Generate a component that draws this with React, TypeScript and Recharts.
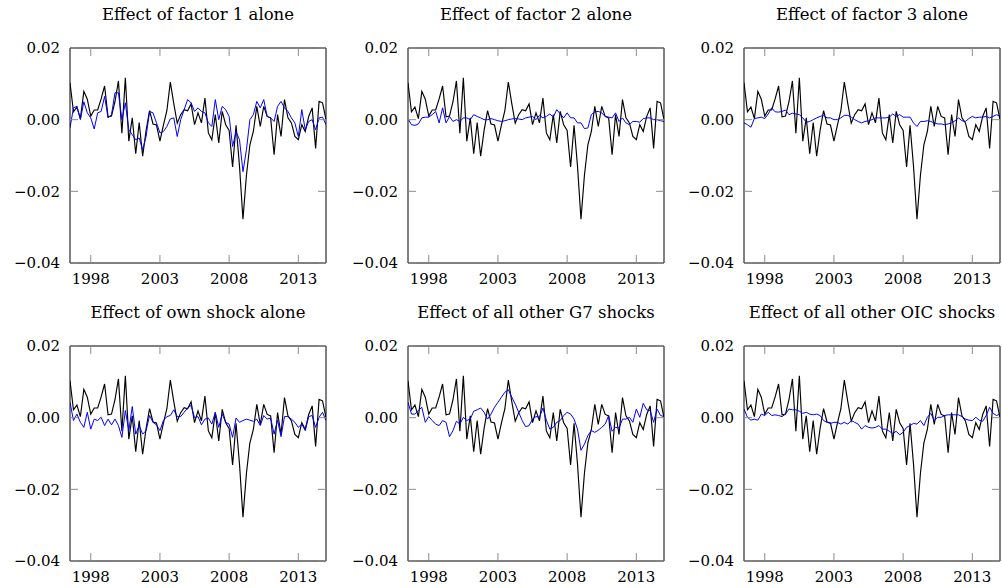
import { LineChart, Line, XAxis, YAxis } from 'recharts'

/* ─── Data (quarterly, 1996.5 … 2015.0) ─────────────────────────── */

const START_YEAR = 1996.5

// observed series (black), same in every panel
const actual = [
  0.0103, 0.0022, 0.0035, 0.0003, 0.0079, 0.0057, 0.001, 0.0027, 0.0027, 0.0058,
  0.0094, 0.0008, 0.001, 0.005, 0.0108, -0.0038, 0.0117, -0.006, 0.0005, -0.0095,
  -0.0008, -0.0102, -0.003, 0.0025, -0.0012, -0.0015, -0.006, -0.0015, 0.0025, 0.0105,
  0.0045, -0.001, 0.0014, 0.0028, 0.0025, 0.0044, -0.0014, 0.0019, -0.0009, 0.006,
  -0.0037, -0.0056, 0.0014, -0.0065, 0.0023, -0.0014, -0.003, -0.0132, -0.0016, -0.013,
  -0.0278, -0.0155, -0.007, -0.0033, 0.0037, -0.0019, 0.0037, 0.0009, 0.0005, -0.0098,
  0.0014, -0.0047, 0.0056, 0.0005, -0.0009, -0.0047, -0.0056, -0.0014, -0.0033, 0.0009,
  0.0033, -0.008, 0.0051, 0.0047, 0.0,
]

const factor1 = [
  -0.0023, 0.0033, 0.0037, 0.0, 0.005, 0.0019, 0.0005, -0.0026, 0.0019, 0.0023,
  0.0065, 0.0005, 0.0014, 0.0075, 0.0075, 0.0, 0.0047, -0.0028, -0.0042, -0.0056,
  -0.0051, -0.0084, -0.0047, 0.0023, 0.0019, -0.0009, -0.0037, -0.0033, -0.0019, 0.0002,
  0.0005, -0.0047, 0.0, 0.0028, 0.0056, 0.0047, 0.0023, 0.0033, 0.0023, 0.0019,
  -0.0009, -0.0019, 0.0056, 0.0, 0.0037, 0.0028, 0.0009, -0.0075, -0.0033, -0.0056,
  -0.0145, -0.0084, 0.0, 0.0014, 0.0051, 0.0033, 0.0056, 0.0009, 0.0005, -0.0005,
  0.0037, 0.0051, 0.0033, 0.0023, 0.0005, -0.0009, -0.0047, 0.0028, -0.0028, -0.0005,
  0.0, -0.0028, 0.0005, 0.0007, -0.0014,
]

const factor2 = [
  0.0002, -0.0014, -0.0016, -0.0012, 0.0005, 0.0007, 0.0007, 0.0014, 0.0023, -0.0009,
  0.0033, -0.0009, 0.0009, -0.0005, 0.0, -0.0005, 0.0005, 0.0005, 0.0, 0.0014,
  0.0009, 0.0005, 0.0, 0.0, 0.0003, 0.0, -0.0003, -0.0005, -0.0003, 0.0,
  0.0002, 0.0003, 0.0002, 0.0, 0.0005, 0.0007, 0.0009, 0.0, 0.0012, 0.0005,
  0.0009, 0.0016, 0.0007, 0.0028, 0.0016, 0.0005, 0.0019, 0.0005, 0.0005, -0.0009,
  -0.0009, -0.0025, -0.0023, 0.0014, 0.0022, 0.0023, 0.0019, 0.0009, 0.0007, 0.0005,
  0.0019, -0.0005, 0.0005, -0.0009, -0.0014, -0.0005, -0.0005, -0.0007, 0.0003, 0.0005,
  0.0005, 0.0, 0.0, -0.0003, -0.0005,
]

const factor3 = [
  -0.0009, -0.0014, -0.0021, 0.0003, 0.0005, 0.0007, 0.0003, 0.0016, 0.0033, 0.0022,
  0.0021, 0.0023, 0.0027, 0.0014, 0.0018, 0.0016, 0.0014, 0.0005, -0.0007, -0.0005,
  0.0, 0.0005, 0.0009, 0.0012, 0.0005, 0.0005, 0.0, 0.0, 0.0005, 0.0012,
  0.0012, 0.0007, 0.0, -0.0005, -0.0009, -0.0005, -0.0003, 0.0, 0.0005, 0.0005,
  0.0005, 0.0005, 0.0007, 0.0016, 0.0009, 0.0014, 0.0007, 0.0007, 0.0007, -0.0009,
  -0.0019, -0.0005, -0.0005, -0.0003, -0.0005, -0.0009, -0.0012, -0.0012, -0.0014, -0.0012,
  -0.0009, -0.0003, 0.0005, -0.0003, -0.0005, 0.0003, 0.0009, 0.0005, 0.0007, 0.0007,
  0.0009, 0.0005, 0.0009, 0.0014, 0.0009,
]

const ownShock = [
  0.0043, -0.0008, 0.001, -0.0013, -0.0027, 0.0015, -0.0032, -0.0004, -0.0008, 0.0001,
  -0.0022, -0.0004, -0.002, -0.0004, -0.0022, -0.0055, 0.002, -0.0036, 0.0031, -0.0046,
  -0.0022, -0.0046, -0.0036, 0.0006, -0.0013, -0.002, -0.0036, -0.0008, 0.0003, 0.0006,
  0.0022, 0.0003, 0.0003, 0.0015, 0.0027, 0.0034, 0.0, 0.0003, -0.002, -0.0004,
  -0.0001, -0.0018, 0.0015, -0.0027, 0.001, -0.0013, -0.0018, -0.0055, -0.0001, -0.0013,
  -0.0008, -0.0004, -0.0007, -0.001, -0.0004, -0.0022, 0.0006, -0.0004, -0.0001, -0.0046,
  -0.0007, -0.0053, 0.0003, 0.0003, -0.0004, -0.0013, -0.0027, -0.0018, -0.0036, 0.0003,
  0.0006, -0.0027, 0.0001, 0.0015, -0.0008,
]

const otherG7 = [
  0.0043, 0.001, 0.001, 0.002, 0.0029, -0.0013, 0.0003, -0.0008, -0.0018, -0.0022,
  -0.0008, -0.0013, -0.0053, -0.0036, -0.001, -0.0018, 0.0001, -0.0008, -0.0004, 0.0018,
  0.0022, 0.0027, 0.0015, -0.0004, 0.001, 0.0029, 0.0043, 0.0057, 0.0071, 0.0078,
  0.0057, 0.0038, 0.0015, -0.0008, -0.0025, -0.0022, -0.0004, 0.0003, 0.0001, 0.0027,
  -0.0007, -0.0032, -0.0027, -0.0013, -0.0008, 0.0006, 0.0015, 0.001, -0.0004, -0.0032,
  -0.0091, -0.0074, -0.005, -0.0036, -0.0041, -0.0035, -0.0027, -0.0018, 0.0006, -0.0038,
  -0.0027, -0.0029, -0.0004, -0.0004, 0.0001, -0.0013, 0.0024, 0.0001, 0.004, 0.0022,
  0.002, -0.0013, 0.0024, 0.0006, 0.0003,
]

const otherOIC = [
  0.0024, 0.0001, -0.0007, -0.0004, -0.0007, 0.001, 0.0006, 0.0015, 0.0006, 0.0008,
  0.0006, 0.0003, 0.001, 0.0024, 0.0022, 0.0022, 0.0018, 0.0012, 0.0015, 0.001,
  0.0008, 0.001, 0.0006, -0.0008, -0.0013, -0.0016, -0.0013, -0.0013, -0.0018, -0.0013,
  -0.0018, -0.0008, -0.0013, -0.0018, -0.0032, -0.0022, -0.0027, -0.0029, -0.0027, -0.0022,
  -0.0032, -0.0032, -0.0038, -0.0044, -0.0038, -0.0048, -0.0041, -0.0027, -0.0022, -0.0016,
  -0.0018, -0.0008, -0.0022, 0.0001, 0.0012, -0.0008, 0.0001, 0.0001, 0.0006, 0.0008,
  0.0008, 0.0008, 0.0008, 0.0003, -0.0004, -0.0007, -0.0008, 0.0001, -0.0007, -0.001,
  0.0006, 0.0029, 0.0012, 0.0006, 0.001,
]

const titles = [
  'Effect of factor 1 alone',
  'Effect of factor 2 alone',
  'Effect of factor 3 alone',
  'Effect of own shock alone',
  'Effect of all other G7 shocks',
  'Effect of all other OIC shocks',
]
const effects = [factor1, factor2, factor3, ownShock, otherG7, otherOIC]

const xTicks = [1998, 2003, 2008, 2013]
const yTicks = [-0.04, -0.02, 0, 0.02]

const quarters = actual.map((_, i) => START_YEAR + i / 4)

/* ─── Layout ───────────────────────────────────────────────────── */

const FONT = 'DejaVu Serif'
const PLOT_LEFT = [70, 408, 744]
const PLOT_TOP = [48, 345.5]
const PLOT_W = 256
const PLOT_H = 215
const TICK_LEN = 8
const TICK_COLOR = '#8c8c8c'
const FONT_SIZE = 15

const fmtY = (v: number) => (v < 0 ? '\u2212' + Math.abs(v).toFixed(2) : v.toFixed(2))

/* inward tick marks, drawn by hand so they sit inside the frame */

function BottomTick({ x, y, payload }: any) {
  return (
    <g>
      <line x1={x} x2={x} y1={y} y2={y - TICK_LEN} stroke={TICK_COLOR} />
      <text x={x} y={y + 10} dy="0.71em" textAnchor="middle" fontSize={FONT_SIZE} fontFamily={FONT} fill="#000">
        {payload.value}
      </text>
    </g>
  )
}

function TopTick({ x, y }: any) {
  return <line x1={x} x2={x} y1={y} y2={y + TICK_LEN} stroke={TICK_COLOR} />
}

function LeftTick({ x, y, payload }: any) {
  return (
    <g>
      <line x1={x} x2={x + TICK_LEN} y1={y} y2={y} stroke={TICK_COLOR} />
      <text x={x - 10} y={y} dy="0.355em" textAnchor="end" fontSize={FONT_SIZE} fontFamily={FONT} fill="#000">
        {fmtY(payload.value)}
      </text>
    </g>
  )
}

function RightTick({ x, y }: any) {
  return <line x1={x} x2={x - TICK_LEN} y1={y} y2={y} stroke={TICK_COLOR} />
}

function Panel({ title, effect, left, top }: { title: string; effect: number[]; left: number; top: number }) {
  const data = quarters.map((t, i) => ({ t, actual: actual[i], effect: effect[i] }))
  const xDomain = [quarters[0], quarters[quarters.length - 1]]
  return (
    <>
      <div
        style={{
          position: 'absolute',
          left: left - 60,
          width: PLOT_W + 120,
          top: top - 42,
          textAlign: 'center',
          fontFamily: FONT,
          fontSize: 16.5,
          lineHeight: '18px',
          whiteSpace: 'nowrap',
        }}
      >
        {title}
      </div>
      <div style={{ position: 'absolute', left: left - 70, top: top - 10 }}>
        <LineChart
          width={70 + PLOT_W + 4}
          height={10 + PLOT_H + 30}
          data={data}
          margin={{ top: 9, right: 3, bottom: 0, left: 0 }}
        >
          <XAxis
            dataKey="t"
            type="number"
            domain={xDomain}
            ticks={xTicks}
            allowDataOverflow
            height={30}
            tickSize={0}
            tickMargin={0}
            tick={<BottomTick />}
            tickLine={false}
            axisLine={{ stroke: '#000' }}
            interval={0}
          />
          <XAxis
            xAxisId="top"
            orientation="top"
            dataKey="t"
            type="number"
            domain={xDomain}
            ticks={xTicks}
            allowDataOverflow
            height={1}
            tickSize={0}
            tickMargin={0}
            tick={<TopTick />}
            tickLine={false}
            axisLine={{ stroke: '#000' }}
            interval={0}
          />
          <YAxis
            type="number"
            domain={[-0.04, 0.02]}
            ticks={yTicks}
            allowDataOverflow
            width={70}
            tickSize={0}
            tickMargin={0}
            tick={<LeftTick />}
            tickLine={false}
            axisLine={{ stroke: '#000' }}
            interval={0}
          />
          <YAxis
            yAxisId="right"
            orientation="right"
            type="number"
            domain={[-0.04, 0.02]}
            ticks={yTicks}
            allowDataOverflow
            width={1}
            tickSize={0}
            tickMargin={0}
            tick={<RightTick />}
            tickLine={false}
            axisLine={{ stroke: '#000' }}
            interval={0}
          />
          <Line
            type="linear"
            dataKey="actual"
            stroke="#000"
            strokeWidth={1.15}
            dot={false}
            isAnimationActive={false}
          />
          <Line
            type="linear"
            dataKey="effect"
            stroke="#0000ff"
            strokeWidth={1}
            dot={false}
            isAnimationActive={false}
          />
        </LineChart>
      </div>
    </>
  )
}

export default function App() {
  return (
    <div style={{ position: 'absolute', left: 0, top: 0, width: 1002, height: 588, background: '#fff' }}>
      {titles.map((title, k) => (
        <Panel
          key={title}
          title={title}
          effect={effects[k]}
          left={PLOT_LEFT[k % 3]}
          top={PLOT_TOP[Math.floor(k / 3)]}
        />
      ))}
    </div>
  )
}
